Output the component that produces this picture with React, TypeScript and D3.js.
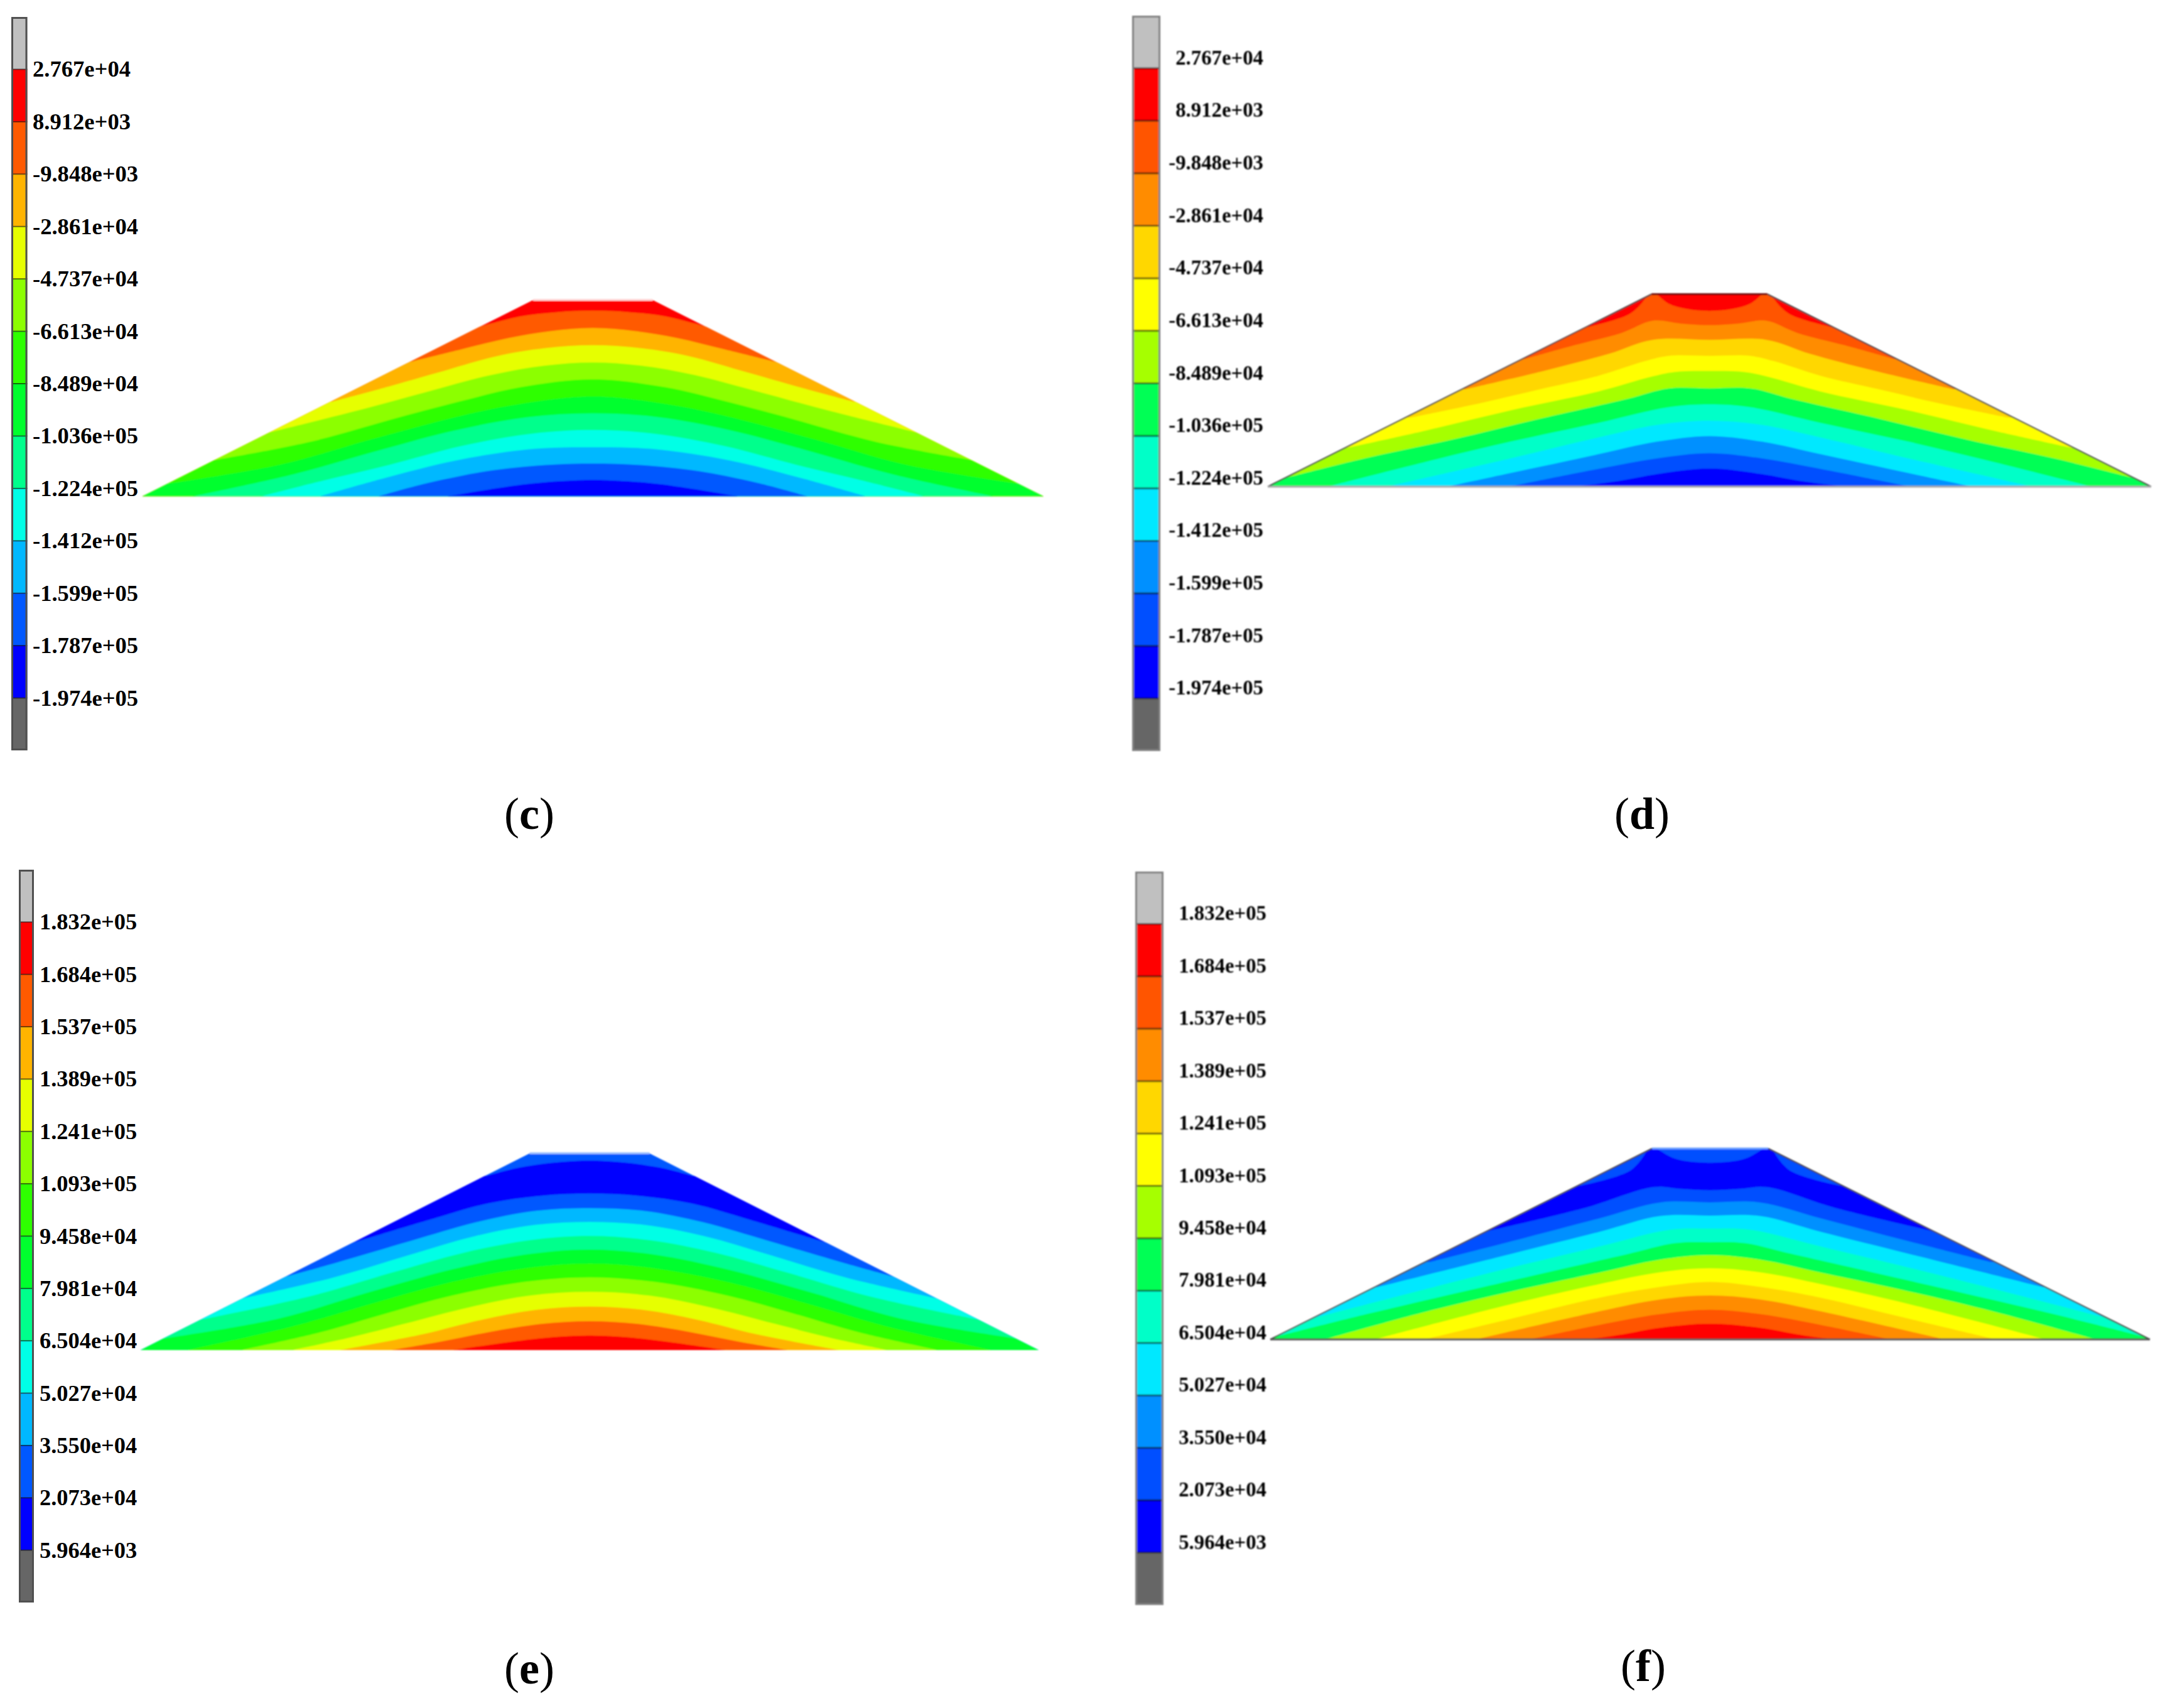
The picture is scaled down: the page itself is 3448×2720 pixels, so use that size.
import React, { useEffect, useRef } from 'react';
import * as d3 from 'd3';

type Pt = [number, number];

// legend labels, top to bottom
const stressLabelsTop = ['2.767e+04', '8.912e+03', '-9.848e+03', '-2.861e+04', '-4.737e+04', '-6.613e+04', '-8.489e+04', '-1.036e+05', '-1.224e+05', '-1.412e+05', '-1.599e+05', '-1.787e+05', '-1.974e+05'];
const stressLabelsBottom = ['1.832e+05', '1.684e+05', '1.537e+05', '1.389e+05', '1.241e+05', '1.093e+05', '9.458e+04', '7.981e+04', '6.504e+04', '5.027e+04', '3.550e+04', '2.073e+04', '5.964e+03'];

// legend colours: over-range grey, twelve bands, under-range grey
const rampLeft = ['#c0c0c0', '#ff0000', '#ff5a00', '#ffb400', '#e6ff00', '#8cff00', '#2eff00', '#00ff2e', '#00ff8c', '#00ffe6', '#00b8ff', '#0058ff', '#0000ff', '#666666'];
const rampRight = ['#c0c0c0', '#ff0000', '#ff5500', '#ff8c00', '#ffd700', '#ffff00', '#a6ff00', '#00ff55', '#00ffc8', '#00e8ff', '#0090ff', '#0050ff', '#0000ff', '#666666'];

// band colours inside each section, crest to base
const bandsC = rampLeft.slice(1, 13);
const bandsD = rampRight.slice(2, 13);
const bandsE = ['#0058ff', '#0000ff', '#0058ff', '#00b8ff', '#00ffe6', '#00ff8c', '#00ff2e', '#2eff00', '#8cff00', '#e6ff00', '#ffb400', '#ff5a00', '#ff0000'];
const bandsF = ['#0000ff', '#0050ff', '#0090ff', '#00e8ff', '#00ffc8', '#00ff55', '#a6ff00', '#ffff00', '#ffd700', '#ff8c00', '#ff5500', '#ff0000'];

// contour lines: [offset from axis, elevation above base], one half of the section
const contoursC: Pt[][] = [
  [[0, 887], [60, 880], [120, 860], [187, 812]],
  [[0, 805], [70, 790], [140, 757], [220, 702], [312, 637]],
  [[0, 722], [80, 708], [160, 670], [260, 590], [340, 525], [435, 452]],
  [[0, 640], [80, 625], [170, 580], [270, 505], [400, 405], [545, 302]],
  [[0, 559], [120, 522], [220, 455], [320, 380], [470, 262], [630, 174]],
  [[0, 477], [120, 442], [220, 385], [370, 272], [520, 152], [705, 62]],
  [[0, 397], [110, 378], [230, 315], [350, 225], [500, 105], [668, 0]],
  [[0, 317], [100, 300], [220, 240], [340, 150], [450, 75], [553, 0]],
  [[0, 235], [98, 227], [228, 172], [348, 87], [456, 0]],
  [[0, 157], [78, 150], [178, 120], [278, 62], [358, 0]],
  [[0, 79], [60, 72], [130, 52], [243, 0]],
];
const contoursE: Pt[][] = [
  [[0, 905], [60, 895], [120, 870], [172, 832]],
  [[0, 747], [80, 737], [170, 700], [270, 620], [392, 515]],
  [[0, 678], [90, 665], [190, 610], [300, 520], [420, 420], [508, 350]],
  [[0, 612], [90, 598], [190, 545], [300, 455], [430, 345], [583, 245]],
  [[0, 545], [100, 525], [210, 465], [330, 370], [470, 255], [650, 145]],
  [[0, 480], [110, 455], [230, 385], [370, 275], [520, 150], [718, 53]],
  [[0, 413], [110, 390], [230, 325], [360, 225], [500, 110], [672, 0]],
  [[0, 347], [110, 325], [230, 260], [340, 175], [450, 85], [582, 0]],
  [[0, 278], [100, 260], [200, 205], [310, 125], [400, 60], [497, 0]],
  [[0, 208], [90, 192], [180, 145], [280, 75], [417, 0]],
  [[0, 138], [80, 125], [170, 85], [250, 40], [332, 0]],
  [[0, 70], [60, 62], [130, 40], [228, 0]],
];
const contoursD: Pt[][] = [
  [[0, 772], [50, 780], [97, 793], [150, 735], [232, 675], [315, 610]],
  [[0, 702], [97, 702], [172, 635], [280, 555], [417, 465]],
  [[0, 625], [70, 625], [110, 600], [190, 530], [290, 465], [390, 400], [510, 330]],
  [[0, 553], [60, 548], [100, 525], [190, 455], [340, 365], [490, 265], [620, 185]],
  [[0, 470], [70, 470], [140, 420], [290, 325], [440, 225], [590, 135], [720, 45]],
  [[0, 393], [70, 380], [190, 305], [340, 215], [490, 115], [653, 0]],
  [[0, 315], [90, 295], [190, 235], [340, 135], [552, 0]],
  [[0, 242], [90, 215], [190, 155], [340, 65], [449, 0]],
  [[0, 160], [90, 135], [190, 85], [343, 0]],
  [[0, 87], [90, 60], [150, 30], [228, 0]],
];
const contoursF: Pt[][] = [
  [[0, 713], [50, 720], [97, 728], [212, 630], [392, 510]],
  [[0, 655], [85, 655], [188, 580], [338, 470], [478, 370]],
  [[0, 592], [85, 590], [188, 515], [338, 410], [568, 250]],
  [[0, 530], [68, 525], [188, 445], [388, 310], [680, 100]],
  [[0, 465], [60, 460], [138, 410], [388, 250], [588, 120], [745, 10]],
  [[0, 403], [88, 380], [188, 320], [338, 230], [488, 130], [658, 0]],
  [[0, 340], [88, 320], [188, 265], [338, 170], [573, 0]],
  [[0, 275], [88, 250], [188, 200], [338, 100], [488, 0]],
  [[0, 210], [88, 190], [188, 135], [400, 0]],
  [[0, 142], [88, 120], [188, 70], [308, 0]],
  [[0, 75], [88, 55], [148, 25], [208, 0]],
];

// crest cap and edge slivers of the finer mesh runs (d, f)
const capD: Pt[] = [[0, 840], [40, 850], [70, 875], [90, 920]];
const sliverD: Pt[] = [[105, 920], [118, 870], [140, 820], [205, 765]];
const capF: Pt[] = [[0, 845], [60, 865], [92, 915]];
const sliverF: Pt[] = [[105, 915], [135, 810], [222, 735]];

const panels = [
  { key: 'c', caption: 'c', contours: contoursC, bands: bandsC, ramp: rampLeft, labels: stressLabelsTop, half: 751.5, crestHalf: 99.5, tall: 939, x: [226.5, 1662], y: [790.5, 477.5], bar: [18, 43.5, 27, 1195], labelX: 52, labelAnchor: 'start', labelDy: 12, labelSize: 36.6, capColor: null, cap: null, sliver: null, blur: false, slope: null, base: null, crest: '#ffd8d8', captionX: 843, captionY: 1320 },
  { key: 'd', caption: 'd', contours: contoursD, bands: bandsD, ramp: rampRight, labels: stressLabelsTop, half: 755, crestHalf: 99, tall: 920, x: [2019, 3426], y: [775, 468.5], bar: [1803, 1848, 25, 1196], labelX: 2012, labelAnchor: 'end', labelDy: -6, labelSize: 32.8, capColor: '#ff0000', cap: capD, sliver: sliverD, blur: true, slope: '#404040', base: '#a8a8a8', crest: '#701010', captionX: 2615, captionY: 1320 },
  { key: 'e', caption: 'e', contours: contoursE, bands: bandsE, ramp: rampLeft, labels: stressLabelsBottom, half: 750, crestHalf: 100, tall: 940, x: [224, 1654], y: [2150, 1836.5], bar: [30, 54, 1385, 2552], labelX: 63, labelAnchor: 'start', labelDy: 12, labelSize: 36.4, capColor: null, cap: null, sliver: null, blur: false, slope: null, base: null, crest: '#9cc0ff', captionX: 843, captionY: 2681 },
  { key: 'f', caption: 'f', contours: contoursF, bands: bandsF, ramp: rampRight, labels: stressLabelsBottom, half: 751, crestHalf: 99, tall: 913, x: [2023, 3424], y: [2133, 1829], bar: [1808, 1853, 1388, 2556], labelX: 2017, labelAnchor: 'end', labelDy: -6, labelSize: 32.8, capColor: '#0050ff', cap: capF, sliver: sliverF, blur: true, slope: '#404040', base: '#555555', crest: '#6ea0ff', captionX: 2617, captionY: 2677 },
];

const serif = '"Liberation Serif", "Times New Roman", serif';

export default function App() {
  const chartRef = useRef<SVGSVGElement>(null);

  useEffect(() => {
    if (!chartRef.current) return;
    const svg = d3.select(chartRef.current);
    svg.selectAll('*').remove();

    const defs = svg.append('defs');
    defs.append('filter').attr('id', 'soft').append('feGaussianBlur').attr('stdDeviation', 1);
    defs.append('filter').attr('id', 'softText').append('feGaussianBlur').attr('stdDeviation', 0.9);

    panels.forEach((p) => {
      const x = d3.scaleLinear().domain([-p.half, p.half]).range(p.x);
      const y = d3.scaleLinear().domain([0, p.tall]).range(p.y);
      const smooth = d3.line<Pt>().x((d) => x(d[0])).y((d) => y(d[1])).curve(d3.curveCatmullRom.alpha(0.5));
      const mirror = (pts: Pt[]): Pt[] => [...pts.slice(1).reverse().map((d): Pt => [-d[0], d[1]]), ...pts];

      // section outline, everything is clipped to it
      const outline: Pt[] = [[-p.half, 0], [-p.crestHalf, p.tall], [p.crestHalf, p.tall], [p.half, 0]];
      const outlinePath = d3.line<Pt>().x((d) => x(d[0])).y((d) => y(d[1]))(outline) + 'Z';
      defs.append('clipPath').attr('id', `section-${p.key}`).append('path').attr('d', outlinePath);

      const section = svg.append('g').attr('filter', 'url(#soft)');
      const clipped = section.append('g').attr('clip-path', `url(#section-${p.key})`);
      clipped.append('path').attr('d', outlinePath).attr('fill', p.bands[0]);

      // paint from crest to base, each contour fills everything under it
      p.contours.forEach((c, i) => {
        const end = c[c.length - 1][1];
        const far = p.half + 40;
        const d = `M${x(-far)},${y(0)}L${x(-far)},${y(end)}` +
          smooth(mirror(c))!.replace('M', 'L') +
          `L${x(far)},${y(end)}L${x(far)},${y(0)}Z`;
        clipped.append('path').attr('d', d).attr('fill', p.bands[i + 1]);
      });

      if (p.cap && p.sliver) {
        const last = p.cap[p.cap.length - 1][1];
        clipped.append('path')
          .attr('d', smooth(mirror(p.cap)) + `L${x(p.cap[p.cap.length - 1][0])},${y(last)}Z`)
          .attr('fill', p.capColor!);
        [1, -1].forEach((side) => {
          const pts = p.sliver!.map((d): Pt => [side * d[0], d[1]]);
          const outer = side * (p.half + 40);
          clipped.append('path')
            .attr('d', smooth(pts) + `L${x(outer)},${y(pts[pts.length - 1][1])}L${x(outer)},${y(pts[0][1])}Z`)
            .attr('fill', p.capColor!);
        });
      }

      if (p.slope) {
        [[outline[0], outline[1]], [outline[2], outline[3]]].forEach(([a, b]) => {
          section.append('line').attr('x1', x(a[0])).attr('y1', y(a[1])).attr('x2', x(b[0])).attr('y2', y(b[1]))
            .attr('stroke', p.slope!).attr('stroke-width', 2);
        });
        section.append('line').attr('x1', x(-p.half)).attr('y1', y(0)).attr('x2', x(p.half)).attr('y2', y(0))
          .attr('stroke', p.base!).attr('stroke-width', 3);
      }
      section.append('line').attr('x1', x(-p.crestHalf)).attr('y1', y(p.tall)).attr('x2', x(p.crestHalf)).attr('y2', y(p.tall))
        .attr('stroke', p.crest).attr('stroke-width', 3);

      // colour bar, border stays inside the bar's extent
      const [bx0, bx1, by0, by1] = p.bar;
      const slot = d3.scaleLinear().domain([0, p.ramp.length]).range([by0, by1]);
      const bar = svg.append('g').attr('filter', p.blur ? 'url(#softText)' : null);
      bar.selectAll('rect.slot').data(p.ramp).enter().append('rect')
        .attr('class', 'slot')
        .attr('x', bx0).attr('width', bx1 - bx0)
        .attr('y', (_d, i) => slot(i)).attr('height', (_d, i) => slot(i + 1) - slot(i))
        .attr('fill', (d) => d);
      bar.selectAll('line.sep').data(d3.range(1, p.ramp.length)).enter().append('line')
        .attr('class', 'sep')
        .attr('x1', bx0).attr('x2', bx1)
        .attr('y1', (d) => slot(d)).attr('y2', (d) => slot(d))
        .attr('stroke', '#000').attr('stroke-opacity', 0.55).attr('stroke-width', p.blur ? 3 : 2);
      bar.append('rect')
        .attr('x', bx0 + 1.5).attr('y', by0 + 1.5).attr('width', bx1 - bx0 - 3).attr('height', by1 - by0 - 3)
        .attr('fill', 'none').attr('stroke', p.blur ? '#808080' : '#505050').attr('stroke-width', 3);

      // legend labels sit on the band boundaries
      const labels = svg.append('g').attr('filter', p.blur ? 'url(#softText)' : null);
      labels.selectAll('text').data(p.labels).enter().append('text')
        .attr('x', p.labelX)
        .attr('y', (_d, i) => slot(i + 1) + p.labelDy)
        .attr('text-anchor', p.labelAnchor)
        .attr('font-family', serif).attr('font-weight', 'bold').attr('font-size', p.labelSize)
        .attr('fill', '#000')
        .text((d) => d);

      const caption = svg.append('text')
        .attr('x', p.captionX).attr('y', p.captionY)
        .attr('text-anchor', 'middle')
        .attr('font-family', serif).attr('font-size', 72).attr('fill', '#000');
      caption.append('tspan').text('(');
      caption.append('tspan').attr('font-weight', 'bold').text(p.caption);
      caption.append('tspan').text(')');
    });
  }, []);

  return (
    <svg
      ref={chartRef}
      width={3448}
      height={2720}
      viewBox="0 0 3448 2720"
      style={{ position: 'absolute', left: 0, top: 0, background: '#fff' }}
    />
  );
}
